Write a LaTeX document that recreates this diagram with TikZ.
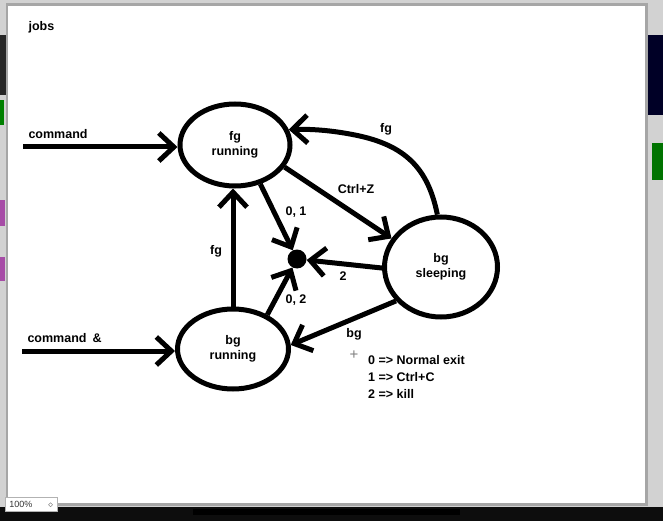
\documentclass[tikz,border=0pt]{standalone}
\usepackage{fontspec}
\setmainfont{Liberation Sans}
\usetikzlibrary{shapes.geometric,arrows.meta}
\begin{document}
\begin{tikzpicture}[x=1pt,y=-1pt,
  every node/.style={font=\bfseries\fontsize{12.5}{15}\selectfont, text=black},
  state/.style={draw, ellipse, line width=5pt, inner sep=0pt, align=center},
  edge/.style={line width=5pt, -{Straight Barb[length=15pt,width=28pt]}},
  lbl/.style={inner sep=1pt}]
% window surroundings
\useasboundingbox (0,0) rectangle (663,521);
\fill[gray!35] (0,0) rectangle (663,521);
\fill[black!95] (0,507) rectangle (663,521);
\fill[black] (193,509) rectangle (460,515);
\fill[black!85!blue] (648,35) rectangle (663,115);
\fill[green!45!black] (652,143) rectangle (663,180);
\fill[black!85] (0,35) rectangle (6,95);
\fill[green!50!black] (0,100) rectangle (4,125);
\fill[violet!70] (0,200) rectangle (5,226);
\fill[violet!70] (0,257) rectangle (5,281);
\fill[gray!70] (6,3) rectangle (648,506);
\fill[white] (8,6) rectangle (645,503);
% zoom box
\node[draw=gray!60, fill=white, minimum width=52pt, minimum height=14pt, inner sep=2pt,
      font=\fontsize{9}{10}\selectfont, text=black!80, anchor=north west, align=left]
      (zoom) at (5,497) {100\%\hspace{16pt}$\diamond$};

% title
\node[anchor=west] (title) at (25,27) {jobs};

% states
\node[state, minimum width=110pt, minimum height=82pt] (fg) at (235,145) {fg\\running};
\node[state, minimum width=111pt, minimum height=80pt] (bgr) at (233,349) {bg\\running};
\node[state, minimum width=113pt, minimum height=100pt] (bgs) at (441,267) {bg\\sleeping};
\node[circle, fill=black, minimum size=19pt, inner sep=0pt] (dot) at (297,259) {};

% incoming commands
\coordinate (c1) at (23,147);
\coordinate (c2) at (22,351);
\draw[edge] (c1) -- (c1 -| fg.west);
\draw[edge] (c2) -- (c2 -| bgr.west);
\node[anchor=south west] (l1) at (25,142) {command};
\node[anchor=south west] (l2) at (24,346) {command\hspace{6pt}\&};

% transitions
\draw[edge] (bgr.north) -- (bgr.north |- fg.south);
\node[lbl] (lfg1) at (216,251) {fg};
\draw[edge] (fg.-57) -- (dot);
\node[lbl] (l01) at (296,212) {0, 1};
\draw[edge] (bgr.45) -- (dot);
\node[lbl] (l02) at (296,300) {0, 2};
\draw[edge] (bgs.181) -- (dot);
\node[lbl] (l2b) at (343,276) {2};
\draw[edge] (fg.-24) -- (bgs.150);
\node[lbl] (lcz) at (356,189) {Ctrl+Z};
\draw[edge] (bgs.217) -- (bgr.4);
\node[lbl] (lbg) at (354,334) {bg};
\draw[edge] (bgs.94) .. controls (428,168) and (405,145) .. (355,135)
            .. controls (330,130) and (310,129) .. (fg.16);
\node[lbl] (lfg2) at (386,129) {fg};

% legend
\node[text=gray, font=\fontsize{15}{15}\selectfont, inner sep=0pt] (cur) at (354,355) {+};
\node[anchor=north west, align=left, inner sep=0pt,
      font=\bfseries\fontsize{12.5}{17}\selectfont] (legend) at (368,355)
  {0 => Normal exit\\1 => Ctrl+C\\2 => kill};
\end{tikzpicture}
\end{document}
